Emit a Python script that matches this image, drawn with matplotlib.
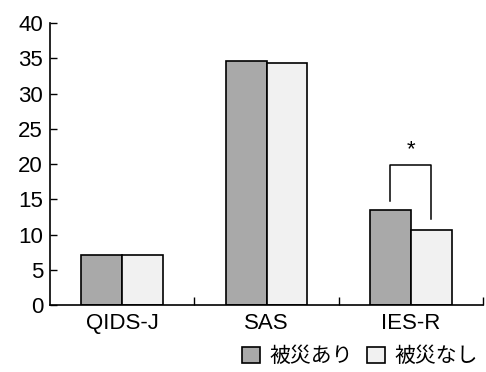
import numpy as np
import matplotlib.pyplot as plt

plt.rcParams['font.family'] = ['Liberation Sans', 'Noto Sans CJK JP', 'DejaVu Sans']

categories = ['QIDS-J', 'SAS', 'IES-R']
affected = [7.1, 34.6, 13.5]
not_affected = [7.1, 34.3, 10.6]
series_labels = ['被災あり', '被災なし']
yticks = [0, 5, 10, 15, 20, 25, 30, 35, 40]

x = np.arange(len(categories))
w = 0.283

fig = plt.figure(figsize=(4.86, 3.72), dpi=100)
ax = fig.add_axes([0.103, 0.18, 0.891, 0.758])

b1 = ax.bar(x - w / 2, affected, w, color='#a9a9a9', edgecolor='black', linewidth=1.2, label=series_labels[0])
b2 = ax.bar(x + w / 2, not_affected, w, color='#f1f1f1', edgecolor='black', linewidth=1.2, label=series_labels[1])

# significance bracket on IES-R
i = 2
top = max(affected[i], not_affected[i]) + 6.3
xl, xr = x[i] - w / 2, x[i] + w / 2
ax.plot([xl, xl, xr, xr], [affected[i] + 1.3, top, top, not_affected[i] + 1.6], color='black', lw=1.1)
ax.text(x[i], top + 0.8, '*', ha='center', va='bottom', fontsize=16)

ax.set_xlim(-0.5, 2.5)
ax.set_ylim(0, 40)
ax.set_yticks(yticks)
ax.set_xticks(x)
ax.set_xticklabels(categories, fontsize=16)
ax.tick_params(axis='y', direction='in', length=5, width=1, labelsize=16, pad=5)
ax.tick_params(axis='x', length=0, pad=6)
ax.set_xticks([0.5, 1.5, 2.5], minor=True)
ax.tick_params(axis='x', which='minor', direction='in', length=6, width=1)
for s in ['top', 'right']:
    ax.spines[s].set_visible(False)
for s in ['left', 'bottom']:
    ax.spines[s].set_linewidth(1.2)

fig.legend(handles=[b1, b2], loc='center right', bbox_to_anchor=(1.0, 0.042), ncol=2,
           frameon=False, fontsize=15, handlelength=0.85, handleheight=0.85,
           handletextpad=0.45, columnspacing=0.7, borderaxespad=0)

fig.savefig('out.png', dpi=100)
